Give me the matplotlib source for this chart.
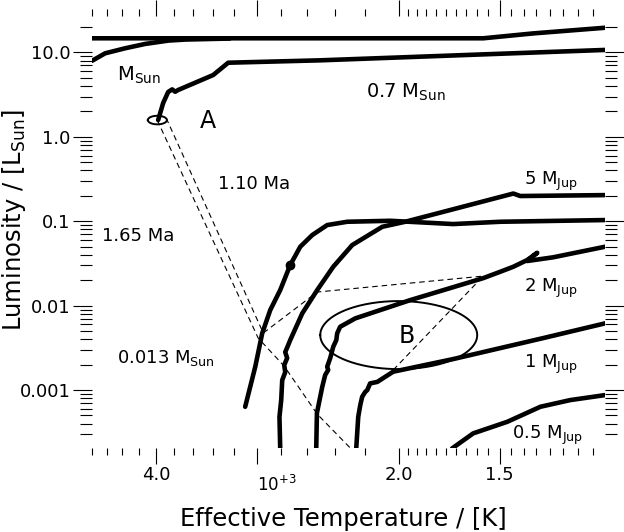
import numpy as np
import matplotlib
matplotlib.use("Agg")
import matplotlib.pyplot as plt
from matplotlib.ticker import FixedLocator, FixedFormatter, NullFormatter

plt.rcParams['font.family'] = ['DejaVu Sans']
plt.rcParams['mathtext.fontset'] = 'dejavusans'

# ---------------- data (Teff in K, luminosity in L_sun) ----------------
top_T = [4800, 2650, 1571, 1362, 1110]
top_L = [14.7, 14.7, 14.7, 16.8, 19.6]

merge_T = [4798, 4623, 4366, 4124, 3862, 3679, 3240]
merge_L = [7.97, 9.76, 11.2, 12.6, 13.8, 14.2, 14.6]

sun_T = [3974, 3918, 3862, 3818, 3786, 3753, 3396, 3254, 2502, 1110]
sun_L = [1.58, 2.51, 3.40, 3.65, 3.42, 3.59, 5.40, 7.55, 8.06, 10.7]

m013_T = [3100, 3012, 2953, 2886, 2805, 2726, 2649, 2560, 2453, 2317, 2049, 1712, 1497, 1110]
m013_L = [0.000634, 0.00189, 0.00470, 0.00887, 0.0153, 0.0303, 0.0499, 0.0686,
          0.0901, 0.0986, 0.1013, 0.0926, 0.0986, 0.1033]

m5_T = [2805, 2811, 2797, 2789, 2765, 2773, 2750, 2765, 2742, 2726, 2634, 2524,
        2411, 2284, 2096, 1963, 1467, 1442, 1414, 1110]
m5_L = [0.000202, 0.000482, 0.000761, 0.00131, 0.00163, 0.00198, 0.00239, 0.00282,
        0.00341, 0.00391, 0.00810, 0.0153, 0.0289, 0.0522, 0.0860, 0.0986, 0.204,
        0.213, 0.199, 0.204]

m2_T = [2531, 2526, 2488, 2467, 2446, 2453, 2432, 2411, 2390, 2384, 2364, 2264,
        1935, 1571, 1497, 1442, 1386, 1347, 1386, 1287, 1110]
m2_L = [0.000202, 0.000534, 0.00109, 0.00151, 0.00173, 0.00189, 0.00239, 0.00326,
        0.00391, 0.00470, 0.00562, 0.00707, 0.01164, 0.0212, 0.0252, 0.0289,
        0.0347, 0.0423, 0.0338, 0.0374, 0.0499]

m1_T = [2258, 2245, 2232, 2220, 2201, 2188, 2170, 2126, 2032, 1712, 1324, 1110]
m1_L = [0.000202, 0.000482, 0.000663, 0.000832, 0.000948, 0.00100, 0.00120,
        0.00125, 0.00165, 0.00233, 0.00413, 0.00617]

m05_T = [1717, 1617, 1467, 1335, 1226, 1110]
m05_L = [0.000204, 0.000307, 0.000421, 0.000634, 0.000761, 0.000872]

iso110_T = [3884, 2944, 2524, 1571, 2049]
iso110_L = [1.67, 0.00474, 0.0145, 0.0224, 0.00159]
iso165_T = [3985, 2987, 2773, 2524, 2252]
iso165_L = [1.58, 0.00413, 0.00192, 0.000519, 0.000170]

# ellipses: centre (T, L) and semi-axes in dex
ellA = (3983, 1.58, 0.0118, 0.051)
ellB = (2000, 0.00448, 0.0973, 0.403)

# labels: text, T (left edge), L (baseline), size
label_text = ["A", "B", "1.10 Ma", "1.65 Ma", r"0.013 M$_{\rm Sun}$", r"M$_{\rm Sun}$",
              r"0.7 M$_{\rm Sun}$", r"5 M$_{\rm Jup}$", r"2 M$_{\rm Jup}$",
              r"1 M$_{\rm Jup}$", r"0.5 M$_{\rm Jup}$"]
label_T = [3525, 2001, 3348, 4667, 4471, 4471, 2196, 1400, 1400, 1398, 1447]
label_L = [1.261, 0.00363, 0.239, 0.0582, 0.00207, 4.62, 2.94, 0.268, 0.0146, 0.00184, 0.000261]
label_size = [17, 17, 13, 13, 13, 14, 14, 13, 13, 13, 13]

xmajor = [4000, 3000, 2000, 1500]
xmajor_labels = ["4.0", "", "2.0", "1.5"]
xminor = [4800, 4600, 4400, 4200, 3800, 3600, 3400, 3200, 2800, 2600, 2400, 2200,
          1950, 1900, 1850, 1800, 1750, 1700, 1650, 1600, 1550,
          1450, 1400, 1350, 1300, 1250, 1200, 1150]
ymajor = [10, 1, 0.1, 0.01, 0.001]
ymajor_labels = ["10.0", "1.0", "0.1", "0.01", "0.001"]

# ---------------- figure ----------------
W, H = 624, 532
fig = plt.figure(figsize=(W / 100, H / 100), dpi=100)
ax = fig.add_axes([92 / W, 1 - 448 / H, (605 - 92) / W, (448 - 16) / H])
ax.set_xscale('log')
ax.set_yscale('log')
ax.set_xlim(4800, 1110)
ax.set_ylim(2.06e-4, 27)
for s in ax.spines.values():
    s.set_visible(False)

thick = dict(color='black', lw=3.3, solid_capstyle='round', solid_joinstyle='round')
for T, L in [(top_T, top_L), (merge_T, merge_L), (sun_T, sun_L), (m013_T, m013_L),
             (m5_T, m5_L), (m2_T, m2_L), (m1_T, m1_L), (m05_T, m05_L)]:
    ax.plot(T, L, **thick)
ax.plot(m013_T[5], m013_L[5], 'o', color='black', ms=6)

dash = dict(color='black', lw=0.8, linestyle=(0, (5, 3.5)))
ax.plot(iso110_T, iso110_L, **dash)
ax.plot(iso165_T, iso165_L, **dash)

t = np.linspace(0, 2 * np.pi, 300)
for Tc, Lc, a, b in [ellA, ellB]:
    ax.plot(10 ** (np.log10(Tc) + a * np.cos(t)), 10 ** (np.log10(Lc) + b * np.sin(t)),
            color='black', lw=1.4)

for txt, T, L, sz in zip(label_text, label_T, label_L, label_size):
    ax.text(T, L, txt, fontsize=sz, ha='left', va='baseline')

# ticks
ax.xaxis.set_major_locator(FixedLocator(xmajor))
ax.xaxis.set_major_formatter(FixedFormatter(xmajor_labels))
ax.xaxis.set_minor_locator(FixedLocator(xminor))
ax.xaxis.set_minor_formatter(NullFormatter())
ax.yaxis.set_major_locator(FixedLocator(ymajor))
ax.yaxis.set_major_formatter(FixedFormatter(ymajor_labels))
ax.tick_params(axis='both', which='both', direction='out', top=True, right=True,
               labeltop=False, labelright=False, color='black')
ax.tick_params(axis='x', which='major', length=11.2, width=0.8, labelsize=13, pad=2)
ax.tick_params(axis='x', which='minor', length=4.8, width=0.8)
ax.tick_params(axis='y', which='major', length=13.4, width=0.8, labelsize=13, pad=2)
ax.tick_params(axis='y', which='minor', length=8.6, width=0.8)

ax.text(3000, -0.085, r"10$^{+3}$", transform=ax.get_xaxis_transform(),
        ha='left', va='center', fontsize=12)

fig.text(343.5 / W, 1 - 525.7 / H, "Effective Temperature / [K]", ha='center',
         va='baseline', fontsize=17.5)
fig.text(14 / W, 1 - 220 / H, r"Luminosity / [L$_{\rm Sun}$]", ha='center', va='center',
         rotation=90, fontsize=17.5)

fig.savefig("out.png", dpi=100)
